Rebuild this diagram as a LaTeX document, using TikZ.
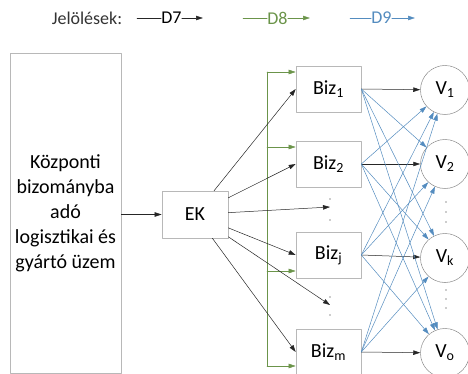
\documentclass[tikz,border=0pt]{standalone}
\usepackage{fontspec}
\setmainfont{Carlito}
\usetikzlibrary{arrows.meta}
\definecolor{kkline}{rgb}{0.15,0.15,0.15}
\definecolor{ggline}{rgb}{0.42,0.58,0.29}
\definecolor{bbline}{rgb}{0.33,0.55,0.75}
\definecolor{boxgray}{rgb}{0.72,0.72,0.72}
\tikzset{
  box/.style={draw=boxgray,line width=0.6pt,inner sep=0pt,minimum width=65pt,minimum height=46pt,font=\fontsize{20}{24}\selectfont},
  bigbox/.style={box,minimum width=111pt,minimum height=320pt,align=center,font=\fontsize{20}{25}\selectfont},
  vcirc/.style={circle,draw=gray,line width=0.5pt,dash pattern=on 2pt off 0.6pt,inner sep=0pt,minimum size=49pt,font=\fontsize{20}{24}\selectfont},
  legtext/.style={inner sep=0pt,font=\fontsize{18}{20}\selectfont},
  d7/.style={>={Triangle[length=7pt,width=4.5pt]},->,draw=kkline,line width=0.5pt},
  d8/.style={>={Triangle[length=7pt,width=4.5pt]},->,draw=ggline,line width=0.5pt},
  d9/.style={>={Triangle[length=7pt,width=4.5pt]},->,draw=bbline,line width=0.5pt}
}
\begin{document}
\begin{tikzpicture}[line cap=round,line join=round,x=1pt,y=-1pt]
	\useasboundingbox (0,0) rectangle (468,374);
	% legend
	\node[legtext,text=black!80] (leg) at (87,18) {Jelölések:};
	\node[legtext,text=black] (l7) at (171.5,18) {D7};
	\node[legtext,text=ggline] (l8) at (277.5,18) {D8};
	\node[legtext,text=bbline] (l9) at (381.5,18) {D9};
	\coordinate (l7a) at (137,18);
	\coordinate (l7b) at (203,18);
	\coordinate (l8a) at (243,18);
	\coordinate (l8b) at (310,18);
	\coordinate (l9a) at (350,18);
	\coordinate (l9b) at (415,18);
	\draw[kkline,line width=0.5pt] (l7a) -- (l7.west);
	\draw[d7] (l7.east) -- (l7b);
	\draw[ggline,line width=0.5pt] (l8a) -- (l8.west);
	\draw[d8] (l8.east) -- (l8b);
	\draw[bbline,line width=0.5pt] (l9a) -- (l9.west);
	\draw[d9] (l9.east) -- (l9b);
	% boxes
	\node[bigbox] (plant) at (65.5,213) {Központi\\bizományba\\adó\\logisztikai és\\gyártó üzem};
	\node[box,minimum width=66pt,minimum height=47pt] (ek) at (195,214.5) {EK};
	\node[box] (b1) at (328.5,89) {Biz\textsubscript{1}};
	\node[box] (b2) at (328.5,164) {Biz\textsubscript{2}};
	\node[box] (bj) at (328.5,255) {Biz\textsubscript{j}};
	\node[box] (bm) at (328.5,352) {Biz\textsubscript{m}};
	\node[vcirc] (v1) at (445,90) {V\textsubscript{1}};
	\node[vcirc] (v2) at (445,164) {V\textsubscript{2}};
	\node[vcirc] (vk) at (445,258) {V\textsubscript{k}};
	\node[vcirc] (vo) at (445,353) {V\textsubscript{o}};
	% dots
	\coordinate (dk1) at (330,207);
	\coordinate (dk2) at (330,305);
	\fill[kkline] (330,199) circle (0.7pt);
	\fill[kkline] (330,220) circle (0.7pt);
	\fill[kkline] (330,297) circle (0.7pt);
	\fill[kkline] (330,315) circle (0.7pt);
	\fill[kkline] (446,202) circle (0.7pt);
	\fill[kkline] (446,212) circle (0.7pt);
	\fill[kkline] (446,222) circle (0.7pt);
	\fill[kkline] (446,290) circle (0.7pt);
	\fill[kkline] (446,299) circle (0.7pt);
	\fill[kkline] (446,308) circle (0.7pt);
	% D8
	\coordinate (g1) at (267,72);
	\coordinate (g2) at (267,147);
	\coordinate (g3) at (267,271);
	\coordinate (g4) at (267,366);
	\draw[ggline,line width=0.5pt] (g1) -- (g4);
	\draw[d8] (g1) -- (g1 -| b1.west);
	\draw[d8] (g2) -- (g2 -| b2.west);
	\draw[d8] (g3) -- (g3 -| bj.west);
	\draw[d8] (g4) -- (g4 -| bm.west);
	% D7
	\draw[d7] (plant.east |- ek) -- (ek);
	\draw[d7] (ek) -- (b1.west);
	\draw[d7] (ek) -- (b2.west);
	\draw[d7] (ek) -- (dk1);
	\draw[d7] (ek) -- (bj.west);
	\draw[d7] (ek) -- (dk2);
	\draw[d7] (ek) -- (bm.west);
	\draw[d7] (b1.east) -- (v1);
	\draw[d7] (b2.east) -- (v2);
	\draw[d7] (bj.east) -- (vk);
	\draw[d7] (bm.east) -- (vo);
	% D9
	\draw[d9] (b1.east) -- (v2);
	\draw[d9] (b1.east) -- (vk);
	\draw[d9] (b1.east) -- (vo);
	\draw[d9] (b2.east) -- (v1);
	\draw[d9] (b2.east) -- (vk);
	\draw[d9] (b2.east) -- (vo);
	\draw[d9] (bj.east) -- (v1);
	\draw[d9] (bj.east) -- (v2);
	\draw[d9] (bj.east) -- (vo);
	\draw[d9] (bm.east) -- (v1);
	\draw[d9] (bm.east) -- (v2);
	\draw[d9] (bm.east) -- (vk);
\end{tikzpicture}
\end{document}
